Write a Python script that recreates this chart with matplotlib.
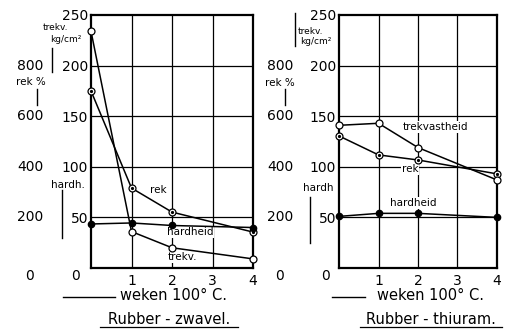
import matplotlib
matplotlib.use("Agg")
import matplotlib.pyplot as plt
from matplotlib.lines import Line2D

# --- data ---
weeks = [0, 1, 2, 4]
x_ticks = [1, 2, 3, 4]
trekv_ticks = [50, 100, 150, 200, 250]   # kg/cm2
rek_ticks = [200, 400, 600, 800]         # %

# Rubber - zwavel
zw_trekv = [234, 36, 20, 9]
zw_rek = [700, 316, 221, 142]
zw_hardh = [43.5, 44.5, 42, 40]

# Rubber - thiuram
th_trekv = [141, 143, 119, 87]
th_rek = [522, 447, 427, 372]
th_hardh = [51, 54, 54, 50]

W, H = 507, 329
NUM = 10
plt.rcParams['font.family'] = 'DejaVu Sans'

fig = plt.figure(figsize=(W / 100, H / 100), dpi=100)


def fx(x):
    return x / W


def fy(y):
    return 1 - y / H


def ftext(x, y, s, size=NUM, ha='center', va='center'):
    fig.text(fx(x), fy(y), s, fontsize=size, ha=ha, va=va, color='black')


def fline(x0, y0, x1, y1, lw=1.0):
    fig.add_artist(Line2D([fx(x0), fx(x1)], [fy(y0), fy(y1)], color='black',
                          lw=lw, transform=fig.transFigure))


def panel(left_px, width_px, trekv, rek, hardh, labels):
    ax = fig.add_axes([fx(left_px), fy(268), width_px / W, 253 / H])
    ax.set_xlim(0, 4)
    ax.set_ylim(0, 250)
    ax.set_xticks(x_ticks)
    ax.set_xticklabels([str(t) for t in x_ticks])
    ax.set_yticks(trekv_ticks)
    ax.set_yticklabels([str(t) for t in trekv_ticks])
    ax.tick_params(length=0, labelsize=NUM)
    ax.tick_params(axis='y', pad=2)
    ax.tick_params(axis='x', pad=4)
    for t in [1, 2, 3]:
        ax.axvline(t, color='black', lw=0.9, zorder=1)
    for t in [50, 100, 150, 200]:
        ax.axhline(t, color='black', lw=0.9, zorder=1)
    for sp in ax.spines.values():
        sp.set_linewidth(1.6)

    ax.plot(weeks, [r / 4 for r in rek], color='black', lw=1.1, marker='o',
            ms=5, mfc='white', mec='black', mew=0.9, clip_on=False, zorder=4)
    ax.plot(weeks, [r / 4 for r in rek], ls='none', marker='o', ms=1.3,
            color='black', clip_on=False, zorder=5)
    ax.plot(weeks, trekv, color='black', lw=1.1, marker='o', ms=5,
            mfc='white', mec='black', mew=0.9, clip_on=False, zorder=4)
    ax.plot(weeks, hardh, color='black', lw=1.1, marker='o', ms=4.5,
            mfc='black', mec='black', clip_on=False, zorder=4)

    for (px, py, s) in labels:
        ax.text((px - left_px) / width_px, (268 - py) / 253, s, fontsize=7.5,
                ha='center', va='center', transform=ax.transAxes, zorder=3,
                bbox=dict(facecolor='white', edgecolor='none', pad=0.6))
    return ax


panel(91, 162, zw_trekv, zw_rek, zw_hardh,
      [(158, 190, 'rek'), (190, 232, 'hardheid'), (182, 257, 'trekv.')])
panel(339, 158, th_trekv, th_rek, th_hardh,
      [(435, 127, 'trekvastheid'), (410, 169, 'rek'), (413, 203, 'hardheid')])

# outer rek % scale and the inner zeros
for cx, inner0 in [(30, 75), (280, 326)]:
    for r in rek_ticks:
        ftext(cx, 268 - r / 4 * 1.012, str(r))
    ftext(cx, 276, '0')
    ftext(inner0, 276, '0')

# axis captions, left
ftext(55, 28, 'trekv.', size=6.5)
ftext(66, 39, 'kg/cm²', size=6.5)
fline(52, 48, 52, 72)
ftext(31, 82, 'rek %', size=7.5)
fline(37, 89, 37, 105)
ftext(68, 185, 'hardh.', size=7.5)
fline(62, 190, 62, 238)

# axis captions, right
fline(295, 13, 295, 46)
ftext(310, 31, 'trekv.', size=6.5)
ftext(316, 42, 'kg/cm²', size=6.5)
ftext(280, 83, 'rek %', size=7.5)
fline(285, 89, 285, 105)
ftext(318, 188, 'hardh', size=7.5)
fline(310, 197, 310, 243)

# x captions and titles
fline(63, 297, 115, 297)
ftext(120, 296, 'weken 100° C.', size=10.5, ha='left')
fline(332, 297, 365, 297)
ftext(377, 296, 'weken 100° C.', size=10.5, ha='left')

ftext(169, 319, 'Rubber - zwavel.', size=10.5)
fline(100, 327, 238, 327, lw=0.9)
ftext(431, 319, 'Rubber - thiuram.', size=10.5)
fline(360, 327, 502, 327, lw=0.9)

fig.savefig('out.png', dpi=100)
